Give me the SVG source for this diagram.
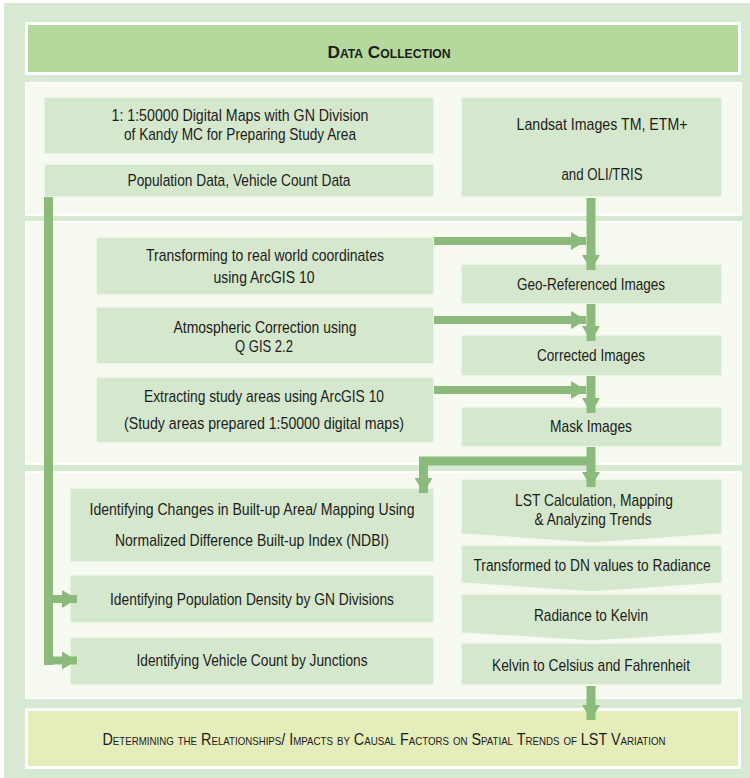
<svg xmlns="http://www.w3.org/2000/svg" width="750" height="778" viewBox="0 0 750 778">
<defs>
<style>
.bg{fill:#d7e9d2}
.sec{fill:#f6faf1;stroke:#ffffff;stroke-width:2}
.box{fill:#d5e8cd;stroke:#f2f8ee;stroke-width:1.5}
.title{fill:#b5d89c;stroke:#ffffff;stroke-width:3}
.final{fill:#e5edba;stroke:#ffffff;stroke-width:3}
text{font-family:"Liberation Sans Narrow","Liberation Sans",Arial,sans-serif;font-size:17px;fill:#1c1c1c;text-anchor:middle}
.sc{font-variant:small-caps}
.conn{fill:none;stroke:#8bbb7b;stroke-width:9;stroke-linecap:butt}
</style>
<marker id="ah" markerUnits="userSpaceOnUse" markerWidth="16" markerHeight="18" refX="15" refY="9" orient="auto">
<path d="M0,0 L15,9 L0,18 z" fill="#8bbb7b"/>
</marker>
</defs>
<rect class="bg" x="4" y="3" width="746" height="775"/>

<g id="title">
<rect class="title" x="26.5" y="23.5" width="713" height="50"/>
<text class="sc" x="389" y="58" font-weight="bold" font-size="21" textLength="123" lengthAdjust="spacingAndGlyphs">Data Collection</text>
</g>

<g id="section1"><rect class="sec" x="26" y="83" width="715" height="132"/></g>
<g id="section2"><rect class="sec" x="26" y="222" width="715" height="242"/></g>
<g id="section3"><rect class="sec" x="26" y="472" width="715" height="226"/></g>

<g id="maps">
<rect class="box" x="44" y="97" width="390" height="57"/>
<text x="240" y="121" textLength="257" lengthAdjust="spacingAndGlyphs">1: 1:50000 Digital Maps with GN Division</text>
<text x="240" y="140" textLength="232" lengthAdjust="spacingAndGlyphs">of Kandy MC for Preparing Study Area</text>
</g>
<g id="population-data">
<rect class="box" x="44" y="164" width="390" height="33"/>
<text x="239" y="186" textLength="223" lengthAdjust="spacingAndGlyphs">Population Data, Vehicle Count Data</text>
</g>
<g id="landsat">
<rect class="box" x="461" y="97" width="261" height="100"/>
<text x="602" y="130" textLength="171" lengthAdjust="spacingAndGlyphs">Landsat Images TM, ETM+</text>
<text x="602" y="180" textLength="81" lengthAdjust="spacingAndGlyphs">and OLI/TRIS</text>
</g>

<g id="transforming">
<rect class="box" x="96" y="237" width="338" height="58"/>
<text x="265" y="261" textLength="238" lengthAdjust="spacingAndGlyphs">Transforming to real world coordinates</text>
<text x="264" y="283" textLength="101" lengthAdjust="spacingAndGlyphs">using ArcGIS 10</text>
</g>
<g id="georef">
<rect class="box" x="461" y="264" width="261" height="40"/>
<text x="591" y="290" textLength="148" lengthAdjust="spacingAndGlyphs">Geo-Referenced Images</text>
</g>
<g id="atmospheric">
<rect class="box" x="96" y="307" width="338" height="57"/>
<text x="265" y="333" textLength="183" lengthAdjust="spacingAndGlyphs">Atmospheric Correction using</text>
<text x="264" y="352" textLength="58" lengthAdjust="spacingAndGlyphs">Q GIS 2.2</text>
</g>
<g id="corrected">
<rect class="box" x="461" y="335" width="261" height="41"/>
<text x="591" y="361" textLength="108" lengthAdjust="spacingAndGlyphs">Corrected Images</text>
</g>
<g id="extracting">
<rect class="box" x="96" y="377" width="338" height="66"/>
<text x="264" y="402" textLength="240" lengthAdjust="spacingAndGlyphs">Extracting study areas using ArcGIS 10</text>
<text x="264" y="429" textLength="280" lengthAdjust="spacingAndGlyphs">(Study areas prepared 1:50000 digital maps)</text>
</g>
<g id="mask">
<rect class="box" x="461" y="407" width="261" height="40"/>
<text x="591" y="432" textLength="82" lengthAdjust="spacingAndGlyphs">Mask Images</text>
</g>

<g id="builtup">
<rect class="box" x="70" y="488" width="364" height="74"/>
<text x="252" y="515" textLength="325" lengthAdjust="spacingAndGlyphs">Identifying Changes in Built-up Area/ Mapping Using</text>
<text x="252" y="546" textLength="274" lengthAdjust="spacingAndGlyphs">Normalized Difference Built-up Index (NDBI)</text>
</g>
<g id="popdensity">
<rect class="box" x="70" y="575" width="364" height="48"/>
<text x="252" y="605" textLength="284" lengthAdjust="spacingAndGlyphs">Identifying Population Density by GN Divisions</text>
</g>
<g id="vehicle">
<rect class="box" x="70" y="637" width="364" height="48"/>
<text x="252" y="666" textLength="231" lengthAdjust="spacingAndGlyphs">Identifying Vehicle Count by Junctions</text>
</g>

<g id="lst">
<polygon class="box" points="461,479 722,479 722,534 592,543 461,534"/>
<text x="594" y="506" textLength="158" lengthAdjust="spacingAndGlyphs">LST Calculation, Mapping</text>
<text x="593" y="525" textLength="117" lengthAdjust="spacingAndGlyphs">&amp; Analyzing Trends</text>
</g>
<g id="dn-radiance">
<polygon class="box" points="461,545 722,545 722,583 592,592 461,583"/>
<text transform="translate(592,571) scale(0.78,1)" x="0" y="0" textLength="304" lengthAdjust="spacingAndGlyphs">Transformed to DN values to Radiance</text>
</g>
<g id="radiance-kelvin">
<polygon class="box" points="461,594 722,594 722,633 592,641 461,633"/>
<text x="591" y="621" textLength="114" lengthAdjust="spacingAndGlyphs">Radiance to Kelvin</text>
</g>
<g id="kelvin-celsius">
<rect class="box" x="461" y="643" width="261" height="42"/>
<text x="591" y="671" textLength="198" lengthAdjust="spacingAndGlyphs">Kelvin to Celsius and Fahrenheit</text>
</g>

<g id="final">
<rect class="final" x="26.5" y="709.5" width="713" height="58"/>
<text class="sc" transform="translate(384,745) scale(0.72,1)" x="0" y="0" font-size="18.5" textLength="782" lengthAdjust="spacingAndGlyphs">Determining the Relationships/ Impacts by Causal Factors on Spatial Trends of LST Variation</text>
</g>

<g id="connectors">
<path class="conn" d="M591,198 V270" marker-end="url(#ah)"/>
<path class="conn" d="M434,241 H586" marker-end="url(#ah)" style="stroke-width:8"/>
<path class="conn" d="M591,304 V341" marker-end="url(#ah)"/>
<path class="conn" d="M434,320 H586" marker-end="url(#ah)" style="stroke-width:8"/>
<path class="conn" d="M591,376 V413" marker-end="url(#ah)"/>
<path class="conn" d="M434,390 H586" marker-end="url(#ah)" style="stroke-width:8"/>
<path class="conn" d="M591,447 V487" marker-end="url(#ah)"/>
<path class="conn" d="M595,461 H423.5 V493" marker-end="url(#ah)"/>
<path class="conn" d="M48.5,197 V665"/>
<path class="conn" d="M44,599 H77" marker-end="url(#ah)" style="stroke-width:8"/>
<path class="conn" d="M44,660.5 H77" marker-end="url(#ah)" style="stroke-width:8"/>
<path class="conn" d="M591,686 V720" marker-end="url(#ah)"/>
</g>
</svg>
